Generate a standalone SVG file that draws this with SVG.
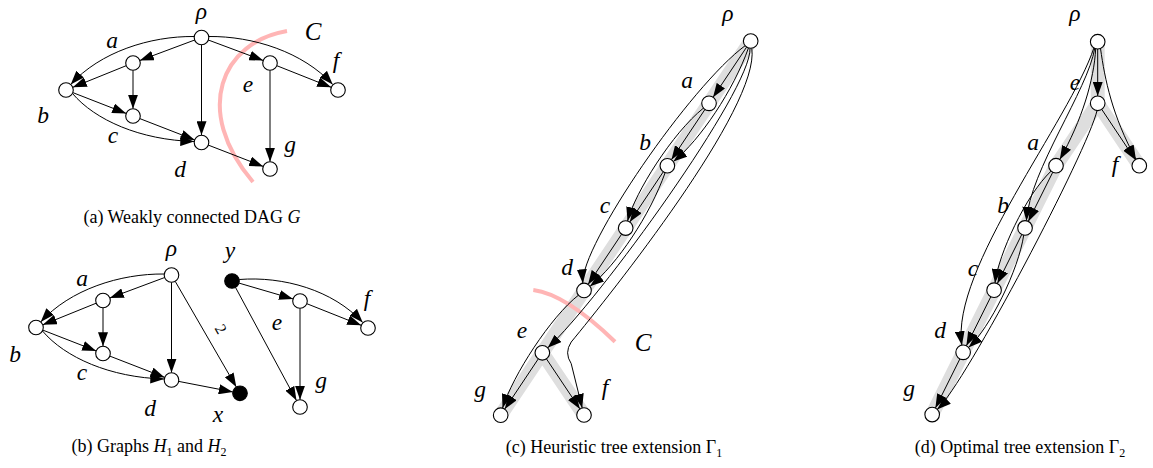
<svg xmlns="http://www.w3.org/2000/svg" width="1153" height="468" viewBox="0 0 1153 468">
<style>
.n{fill:#fff;stroke:#000;stroke-width:1.1}
.nf{fill:#000;stroke:#000;stroke-width:1.1}
.e{fill:none;stroke:#000;stroke-width:1;marker-end:url(#ah)}
.l{font-family:'Liberation Serif','Times New Roman',Times,serif;font-style:italic;font-size:23.5px;text-anchor:middle}
.cap{font-family:'Liberation Serif','Times New Roman',Times,serif;font-size:18px;text-anchor:middle}
.band{fill:none;stroke:#dedede;stroke-width:14;stroke-linejoin:round}
.cut{fill:none;stroke:#ffb5b5;stroke-width:4}
</style>
<defs>
<marker id="ah" viewBox="0 0 14 10" refX="14" refY="5" markerWidth="14" markerHeight="10" markerUnits="userSpaceOnUse" orient="auto"><path d="M0,0 L14,5 L0,10 z" fill="#000"/></marker>
</defs>
<rect width="1153" height="468" fill="#fff"/>

<g id="bands">
<path class="band" d="M750.7,41 L500.68,415.18 M542.35,352.81 L584,415"/>
<path class="band" d="M1097.7,41.7 L1097.7,103.3 L1056,165.7 L932.17,414.59 M1097.7,103.3 L1139.3,165.7"/>
</g>

<g id="cuts">
<path class="cut" d="M287,31 C222,42 192,110 253,182"/>
<path class="cut" d="M533.3,290 Q565.85,294.15 615,341.7"/>
<text class="l" x="313" y="40" style="font-size:25px">C</text>
<text class="l" x="643" y="351" style="font-size:25px">C</text>
</g>

<g id="connectors">
<!-- panel a -->
<path class="e" d="M194.7,40 L139.8,60.5"/>
<path class="e" d="M194.3,36.5 C150,36 100,52 70.7,84.5"/>
<path class="e" d="M126.2,65.7 L72.8,87.3"/>
<path class="e" d="M133,70.3 L133,108.7"/>
<path class="e" d="M72.8,92.6 L126.2,113.4"/>
<path class="e" d="M72.5,93.5 C95,120 140,140 194.3,141.5"/>
<path class="e" d="M139.8,118.6 L194.7,139.9"/>
<path class="e" d="M201.5,44.8 L201.5,135.2"/>
<path class="e" d="M208.3,145.1 L263.2,166.4"/>
<path class="e" d="M208.3,40 L263.2,60.5"/>
<path class="e" d="M208.7,36.5 C253,36 303,52 332.7,84.5"/>
<path class="e" d="M276.8,65.7 L331.2,87.3"/>
<path class="e" d="M270,70.3 L270,161.7"/>
<!-- panel b -->
<path class="e" d="M164.7,277.5 L109.8,298"/>
<path class="e" d="M164.3,274 C120,273.5 70,289.5 40.7,322"/>
<path class="e" d="M96.2,303.2 L42.8,324.8"/>
<path class="e" d="M103,307.8 L103,346.2"/>
<path class="e" d="M42.8,330.1 L96.2,350.9"/>
<path class="e" d="M42.5,331 C65,357.5 110,377.5 164.3,379"/>
<path class="e" d="M109.8,356.1 L164.7,377.4"/>
<path class="e" d="M171.5,282.3 L171.5,372.7"/>
<path class="e" d="M178.7,381.4 L232.8,391.9"/>
<path class="e" d="M175.2,281.3 L236.3,387"/>
<path class="e" d="M239,283.1 L293,298.9"/>
<path class="e" d="M239.2,279.5 C283,276 333,290 362.7,322.5"/>
<path class="e" d="M306.8,303.7 L361.2,325.3"/>
<path class="e" d="M300,308.3 L300,399.7"/>
<path class="e" d="M235.5,287.4 L296.5,400.6"/>
<text x="0" y="0" transform="translate(221,329) rotate(60)" font-family="Liberation Serif, serif" font-size="16" text-anchor="middle" dominant-baseline="central">2</text>
<!-- panel c -->
<path class="e" d="M746.64,47.07 L713.09,97.29"/>
<path class="e" d="M704.97,109.43 L671.42,159.65"/>
<path class="e" d="M663.3,171.79 L629.75,222.02"/>
<path class="e" d="M621.63,234.16 L588.08,284.38"/>
<path class="e" d="M748.47,47.93 C733.73,89.8 700.39,139.69 673.39,161.57"/>
<path class="e" d="M665.13,172.66 C650.39,214.53 617.05,264.42 590.05,286.3"/>
<path class="e" d="M750,48.34 C751.76,89.82 598.99,300.45 547.71,347.85"/>
<path class="e" d="M751.8,48.35 C760.34,107.58 609.54,295.47 571.21,342.03 Q564,352.8 571.2,363.6 L582.2,407.9"/>
<path class="e" d="M745.15,45.71 C691.02,85.31 580.19,245.79 582.81,283.26"/>
<path class="e" d="M703.48,108.07 C672.39,133 635.16,192.32 627.52,221.02"/>
<path class="e" d="M578.47,295.16 C550.99,316.49 512.92,375.25 502.51,408.11"/>
<path class="e" d="M538.29,358.88 L504.74,409.1"/>
<path class="e" d="M546.4,358.8 L579.9,408.9"/>
<!-- panel d -->
<path class="e" d="M1097.7,49 L1097.7,96"/>
<path class="e" d="M1101.76,109.37 L1135.24,159.63"/>
<path class="e" d="M1052.75,172.24 L1028.29,221.38"/>
<path class="e" d="M1021.79,234.46 L997.33,283.6"/>
<path class="e" d="M990.83,296.68 L966.38,345.83"/>
<path class="e" d="M959.88,358.91 L935.42,408.05"/>
<path class="e" d="M1100.5,48.5 C1105,80 1112,115 1135.9,159.2"/>
<path class="e" d="M1095.7,48.7 C1094,80 1082,120 1059.8,159.5"/>
<path class="e" d="M1094.8,48 C1088,90 1030,170 1026.37,220.77"/>
<path class="e" d="M1094,47.6 C1070,120 950,270 961.9,345.2"/>
<path class="e" d="M1051.09,171.08 C1025.65,195.27 998.48,254.36 995,282.9"/>
<path class="e" d="M1023.71,235.08 C1018.63,269.97 989.68,328.17 968.56,347.48"/>
<path class="e" d="M1097,110.6 C1088,150 965.63,383.23 937.15,409.49"/>
</g>

<!-- panel a nodes -->
<g id="a-rho"><circle class="n" cx="201.5" cy="37.5" r="7.3"/><text class="l" x="201.5" y="19">ρ</text></g>
<g id="a-a"><circle class="n" cx="133" cy="63" r="7.3"/><text class="l" x="112" y="48">a</text></g>
<g id="a-b"><circle class="n" cx="66" cy="90" r="7.3"/><text class="l" x="43" y="123">b</text></g>
<g id="a-c"><circle class="n" cx="133" cy="116" r="7.3"/><text class="l" x="113" y="143">c</text></g>
<g id="a-d"><circle class="n" cx="201.5" cy="142.5" r="7.3"/><text class="l" x="180" y="177">d</text></g>
<g id="a-e"><circle class="n" cx="270" cy="63" r="7.3"/><text class="l" x="248" y="92">e</text></g>
<g id="a-f"><circle class="n" cx="338" cy="90" r="7.3"/><text class="l" x="336" y="68">f</text></g>
<g id="a-g"><circle class="n" cx="270" cy="169" r="7.3"/><text class="l" x="290" y="152">g</text></g>

<!-- panel b nodes -->
<g id="b-rho"><circle class="n" cx="171.5" cy="275" r="7.3"/><text class="l" x="171.5" y="256">ρ</text></g>
<g id="b-a"><circle class="n" cx="103" cy="300.5" r="7.3"/><text class="l" x="82" y="286">a</text></g>
<g id="b-b"><circle class="n" cx="36" cy="327.5" r="7.3"/><text class="l" x="15" y="362">b</text></g>
<g id="b-c"><circle class="n" cx="103" cy="353.5" r="7.3"/><text class="l" x="82" y="380">c</text></g>
<g id="b-d"><circle class="n" cx="171.5" cy="380" r="7.3"/><text class="l" x="150" y="416">d</text></g>
<g id="b-x"><circle class="nf" cx="240" cy="393.3" r="7.3"/><text class="l" x="218" y="422">x</text></g>
<g id="b-y"><circle class="nf" cx="232" cy="281" r="7.3"/><text class="l" x="230" y="258">y</text></g>
<g id="b-e"><circle class="n" cx="300" cy="301" r="7.3"/><text class="l" x="277" y="330">e</text></g>
<g id="b-f"><circle class="n" cx="368" cy="328" r="7.3"/><text class="l" x="367" y="306">f</text></g>
<g id="b-g"><circle class="n" cx="300" cy="407" r="7.3"/><text class="l" x="321" y="388">g</text></g>

<!-- panel c nodes -->
<g id="c-rho"><circle class="n" cx="750.7" cy="41" r="7.3"/><text class="l" x="728" y="21">ρ</text></g>
<g id="c-a"><circle class="n" cx="709.03" cy="103.36" r="7.3"/><text class="l" x="687" y="88">a</text></g>
<g id="c-b"><circle class="n" cx="667.36" cy="165.73" r="7.3"/><text class="l" x="645" y="150">b</text></g>
<g id="c-c"><circle class="n" cx="625.69" cy="228.09" r="7.3"/><text class="l" x="605" y="213">c</text></g>
<g id="c-d"><circle class="n" cx="584.02" cy="290.45" r="7.3"/><text class="l" x="567" y="275">d</text></g>
<g id="c-e"><circle class="n" cx="542.35" cy="352.81" r="7.3"/><text class="l" x="522" y="338">e</text></g>
<g id="c-g"><circle class="n" cx="500.68" cy="415.18" r="7.3"/><text class="l" x="480" y="397">g</text></g>
<g id="c-f"><circle class="n" cx="584" cy="415" r="7.3"/><text class="l" x="605" y="395">f</text></g>

<!-- panel d nodes -->
<g id="d-rho"><circle class="n" cx="1097.7" cy="41.7" r="7.3"/><text class="l" x="1075" y="21">ρ</text></g>
<g id="d-e"><circle class="n" cx="1097.7" cy="103.3" r="7.3"/><text class="l" x="1075" y="90">e</text></g>
<g id="d-f"><circle class="n" cx="1139.3" cy="165.7" r="7.3"/><text class="l" x="1115" y="172">f</text></g>
<g id="d-a"><circle class="n" cx="1056" cy="165.7" r="7.3"/><text class="l" x="1033" y="150">a</text></g>
<g id="d-b"><circle class="n" cx="1025.04" cy="227.92" r="7.3"/><text class="l" x="1003" y="213">b</text></g>
<g id="d-c"><circle class="n" cx="994.08" cy="290.14" r="7.3"/><text class="l" x="973" y="276">c</text></g>
<g id="d-d"><circle class="n" cx="963.13" cy="352.37" r="7.3"/><text class="l" x="940" y="338">d</text></g>
<g id="d-g"><circle class="n" cx="932.17" cy="414.59" r="7.3"/><text class="l" x="909" y="396">g</text></g>

<g id="captions">
<text class="cap" x="192" y="223">(a) Weakly connected DAG <tspan font-style="italic">G</tspan></text>
<text class="cap" x="149" y="452">(b) Graphs <tspan font-style="italic">H</tspan><tspan font-size="12" dy="4">1</tspan><tspan dy="-4"> and </tspan><tspan font-style="italic">H</tspan><tspan font-size="12" dy="4">2</tspan></text>
<text class="cap" x="614" y="453">(c) Heuristic tree extension Γ<tspan font-size="12" dy="4">1</tspan></text>
<text class="cap" x="1020" y="453">(d) Optimal tree extension Γ<tspan font-size="12" dy="4">2</tspan></text>
</g>
</svg>
